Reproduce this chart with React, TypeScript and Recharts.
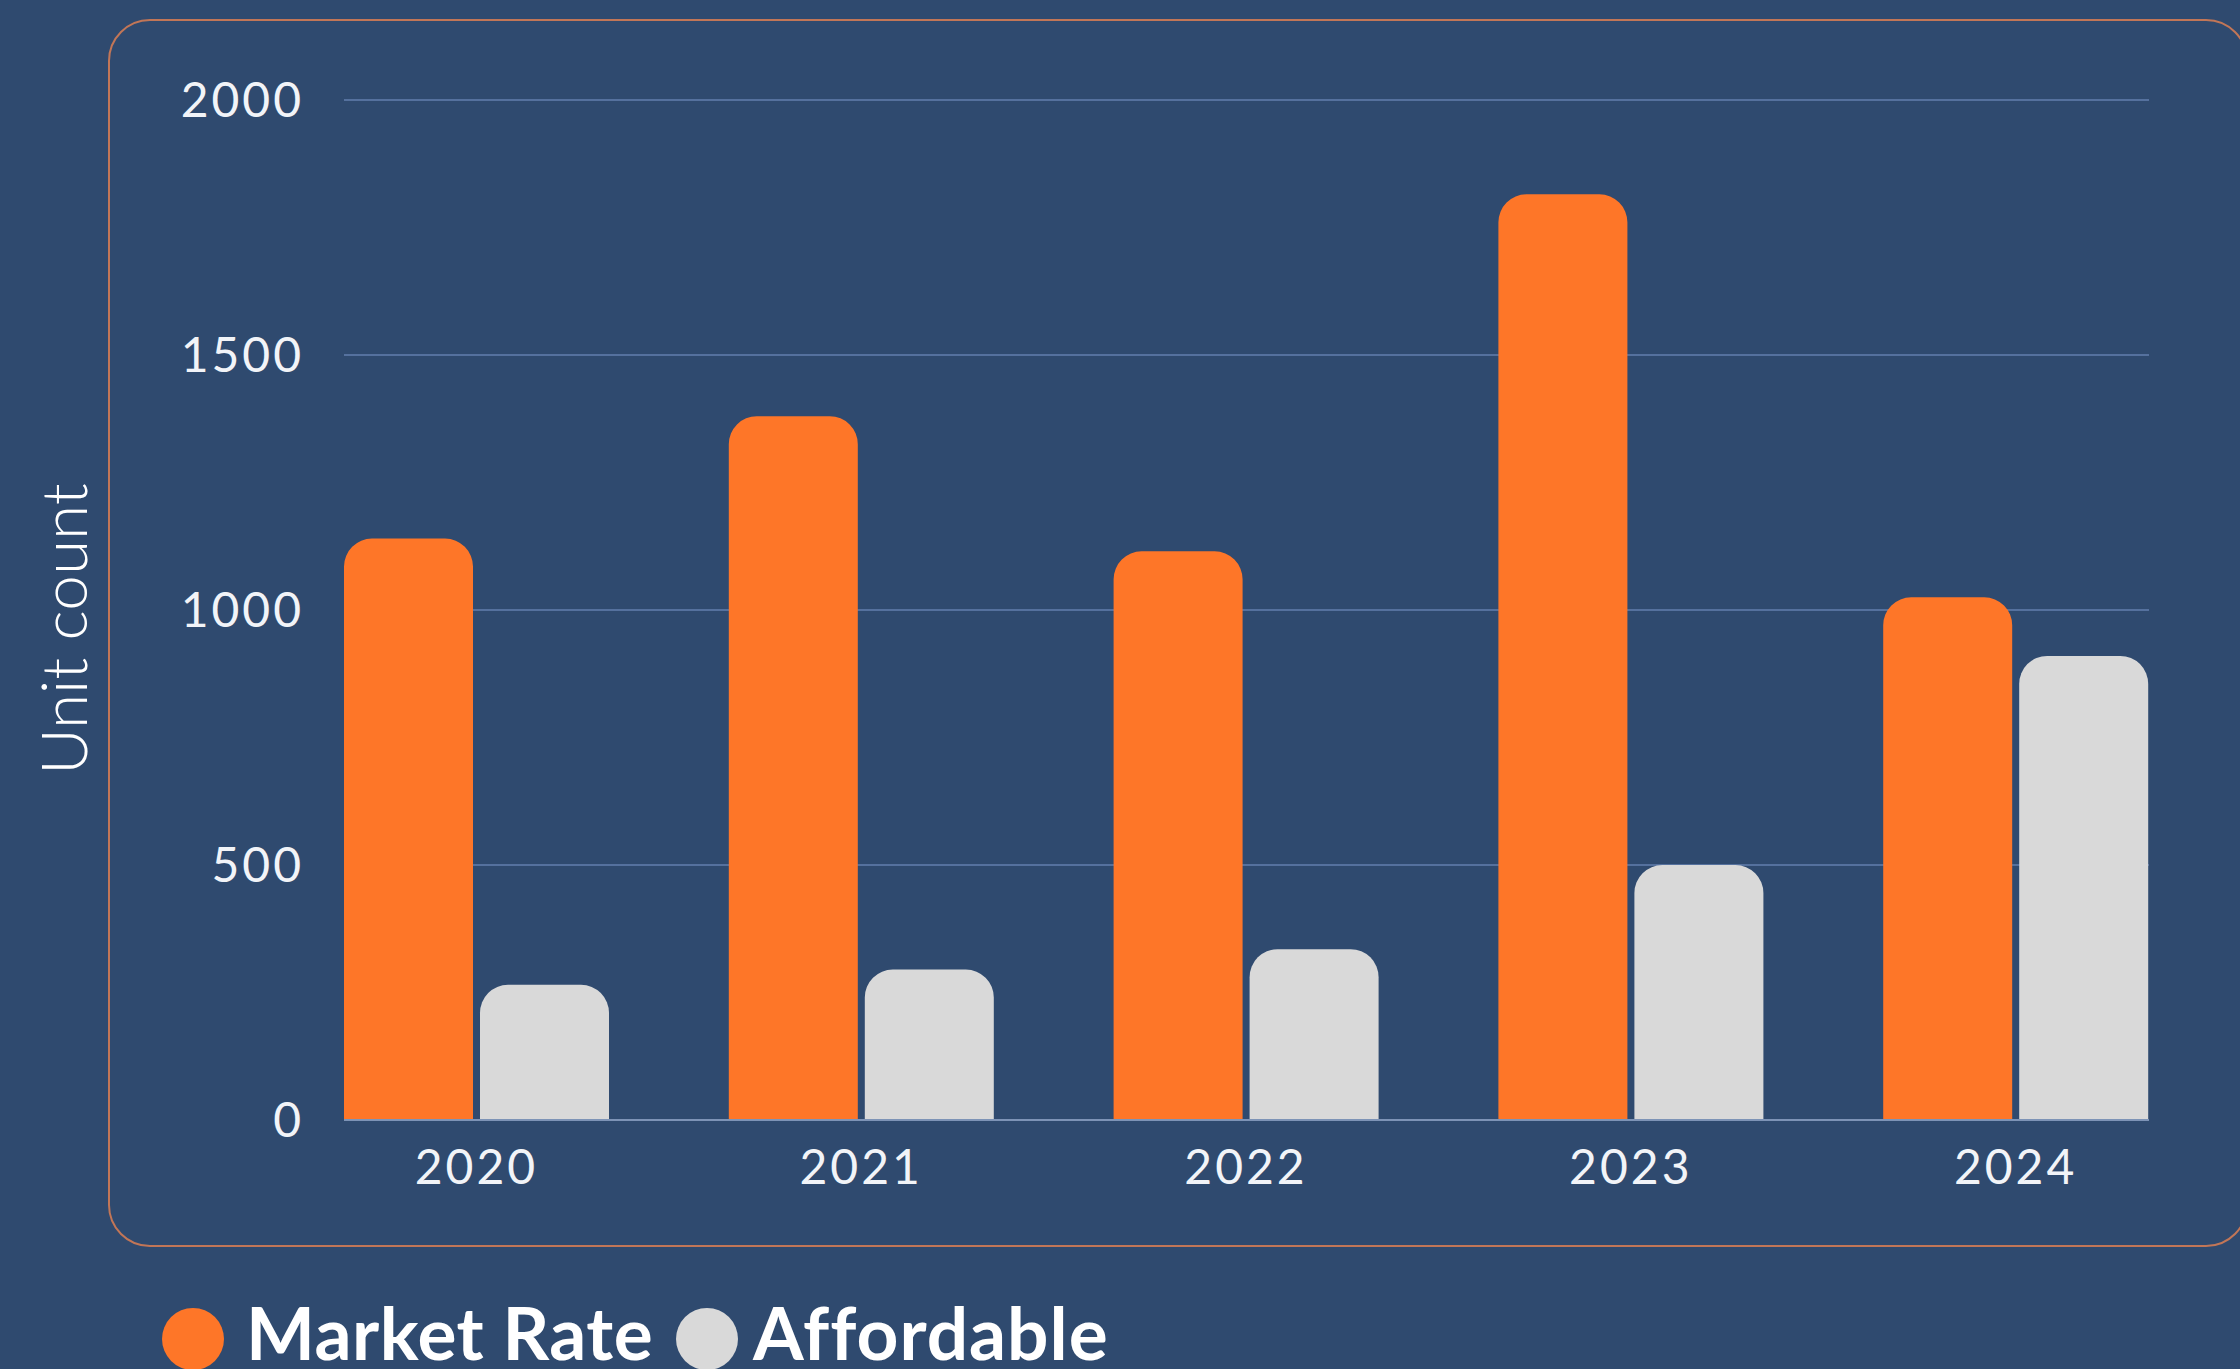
import React from "react";
import { BarChart, Bar, XAxis, YAxis, CartesianGrid } from "recharts";

const years = ["2020", "2021", "2022", "2023", "2024"];
const marketRate = [1140, 1380, 1115, 1815, 1025];
const affordable = [265, 295, 335, 500, 910];
const yTicks = [0, 500, 1000, 1500, 2000];
const seriesNames = ["Market Rate", "Affordable"];
const seriesColors = ["#FE7628", "#D9D9D9"];

const data = years.map((year, i) => ({
  year,
  market: marketRate[i],
  affordable: affordable[i],
}));

const BG = "#2F4A6F";
const FONT = "Lato, 'Open Sans', sans-serif";

const App = () => {
  return (
    <div
      style={{
        position: "fixed",
        top: 0,
        left: 0,
        width: 2240,
        height: 1369,
        overflow: "hidden",
        background: BG,
        fontFamily: FONT,
      }}
    >
      {/* card border */}
      <div
        style={{
          position: "absolute",
          left: 108,
          top: 19,
          width: 2140,
          height: 1228,
          border: "2px solid #C27657",
          borderRadius: 42,
          boxSizing: "border-box",
        }}
      />

      <div style={{ position: "absolute", left: 0, top: 0 }}>
        <BarChart
          width={2240}
          height={1369}
          data={data}
          margin={{ top: 100, right: 91, bottom: 169, left: 0 }}
          barSize={129}
          barGap={7}
        >
          <CartesianGrid
            vertical={false}
            stroke="#55719E"
            strokeWidth={2}
          />
          <XAxis
            dataKey="year"
            height={80}
            padding={{ left: -60, right: -59 }}
            axisLine={{ stroke: "#7D93B6", strokeWidth: 2 }}
            tickLine={false}
            tickSize={0}
            tickMargin={30}
            tick={{ fill: "#F2F4F8", fontSize: 48, fontFamily: FONT, letterSpacing: 3 }}
          />
          <YAxis
            width={344}
            domain={[0, 2000]}
            ticks={yTicks}
            axisLine={false}
            tickLine={false}
            tickSize={0}
            tickMargin={40}
            tick={{ fill: "#F2F4F8", fontSize: 48, fontFamily: FONT, letterSpacing: 3 }}
          />
          <Bar
            dataKey="market"
            name={seriesNames[0]}
            fill={seriesColors[0]}
            radius={[28, 28, 0, 0]}
            isAnimationActive={false}
          />
          <Bar
            dataKey="affordable"
            name={seriesNames[1]}
            fill={seriesColors[1]}
            radius={[28, 28, 0, 0]}
            isAnimationActive={false}
          />
        </BarChart>
      </div>

      {/* axis title and legend */}
      <svg
        width={2240}
        height={1369}
        style={{ position: "absolute", left: 0, top: 0, pointerEvents: "none" }}
      >
        <text
          x={0}
          y={0}
          transform="translate(87 629) rotate(-90)"
          textAnchor="middle"
          fill="#FFFFFF"
          fontSize={64}
          fontWeight={300}
          fontFamily={FONT}
        >
          Unit count
        </text>
        <circle cx={193} cy={1339} r={31} fill={seriesColors[0]} />
        <text x={246} y={1360} fill="#FFFFFF" fontSize={73} fontWeight={700} fontFamily={FONT} letterSpacing={0.5}>
          {seriesNames[0]}
        </text>
        <circle cx={707} cy={1339} r={31} fill={seriesColors[1]} />
        <text x={753} y={1360} fill="#FFFFFF" fontSize={73} fontWeight={700} fontFamily={FONT} letterSpacing={1}>
          {seriesNames[1]}
        </text>
      </svg>
    </div>
  );
};

export default App;
